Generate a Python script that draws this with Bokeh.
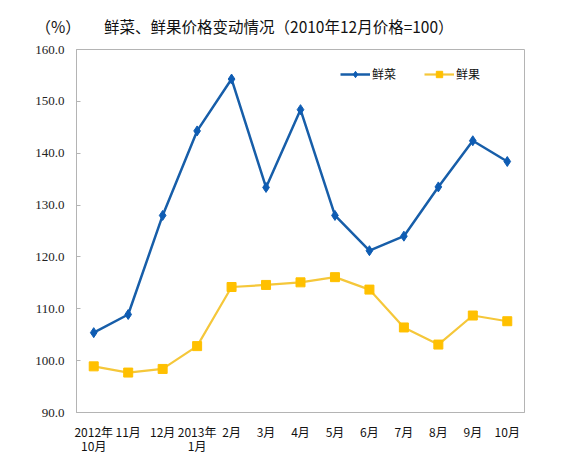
import numpy as np
from bokeh.plotting import figure
from bokeh.models import Legend, LegendItem, FixedTicker, NumeralTickFormatter, Range1d, FactorRange
from bokeh.embed import file_html
from bokeh.resources import INLINE

# months (two-line labels where the year changes)
months = ["2012年\n10月", "11月", "12月", "2013年\n1月", "2月", "3月", "4月",
          "5月", "6月", "7月", "8月", "9月", "10月"]
# price index, Dec 2010 = 100
vegetables = [105.4, 108.9, 128.0, 144.3, 154.3, 133.4, 148.4, 128.0, 121.2, 124.0, 133.5, 142.4, 138.4]
fruits = [98.9, 97.7, 98.4, 102.8, 114.2, 114.6, 115.1, 116.1, 113.7, 106.4, 103.1, 108.7, 107.6]
y_ticks = [90, 100, 110, 120, 130, 140, 150, 160]

title_text = "鲜菜、鲜果价格变动情况（2010年12月价格=100）"
unit_text = "（%）"

CJK = "Noto Sans CJK SC"
BLUE = "#0E5CB3"
BLUE_LINE = "#175EA9"
GOLD = "#FFC000"
GOLD_LINE = "#F5C73A"
GRAY = "#B4B4B4"

p = figure(x_range=FactorRange(*months), y_range=Range1d(90, 160),
           frame_width=448, frame_height=363,
           min_border_left=76, min_border_right=56, min_border_top=49, min_border_bottom=38,
           toolbar_location=None, output_backend="svg")
p.background_fill_color = "white"
p.border_fill_color = "white"
p.outline_line_color = GRAY
p.outline_line_width = 1
p.xgrid.grid_line_color = None
p.ygrid.grid_line_color = None

# unit and title share one line above the frame (ideographic spaces keep the gap)
p.title.text = unit_text + "\u3000\u3000" + title_text
p.title.align = "left"
p.title.vertical_align = "top"
p.title.offset = -41
p.title.standoff = 22
p.title.text_font = CJK
p.title.text_font_size = "15.5px"
p.title.text_font_style = "normal"
p.title.text_color = "#111111"

l1 = p.line(months, vegetables, line_color=BLUE_LINE, line_width=2.5)
s1 = p.scatter(months, vegetables, marker="diamond", size=10, fill_color=BLUE, line_color=BLUE)
l2 = p.line(months, fruits, line_color=GOLD_LINE, line_width=2.2)
s2 = p.scatter(months, fruits, marker="square", size=9, fill_color=GOLD, line_color=GOLD)

# y axis
p.yaxis.ticker = FixedTicker(ticks=y_ticks)
p.yaxis.formatter = NumeralTickFormatter(format="0.0")
p.yaxis.axis_line_color = GRAY
p.yaxis.major_tick_line_color = GRAY
p.yaxis.major_tick_in = 4
p.yaxis.major_tick_out = 0
p.yaxis.minor_tick_line_color = None
p.yaxis.major_label_standoff = 12
p.yaxis.major_label_text_font = "Liberation Serif"
p.yaxis.major_label_text_font_size = "13px"
p.yaxis.major_label_text_color = "#222222"

# x axis
p.xaxis.axis_line_color = GRAY
p.xaxis.major_tick_line_color = None
p.xaxis.major_tick_out = 0
p.xaxis.major_label_standoff = 10
p.xaxis.major_label_text_font = CJK
p.xaxis.major_label_text_font_size = "12px"
p.xaxis.major_label_text_line_height = 0.85
p.xaxis.major_label_text_color = "#111111"

# legend
legend = Legend(items=[LegendItem(label="鲜菜", renderers=[l1, s1]),
                       LegendItem(label="鲜果", renderers=[l2, s2])],
                location=(264, 330), orientation="horizontal",
                glyph_width=30, glyph_height=16, label_standoff=2, spacing=28,
                padding=0, margin=0, border_line_color=None, background_fill_alpha=0,
                label_text_font=CJK, label_text_font_size="12px", label_text_color="#111111")
p.add_layout(legend, "center")

open("out.html", "w").write(file_html(p, INLINE))
